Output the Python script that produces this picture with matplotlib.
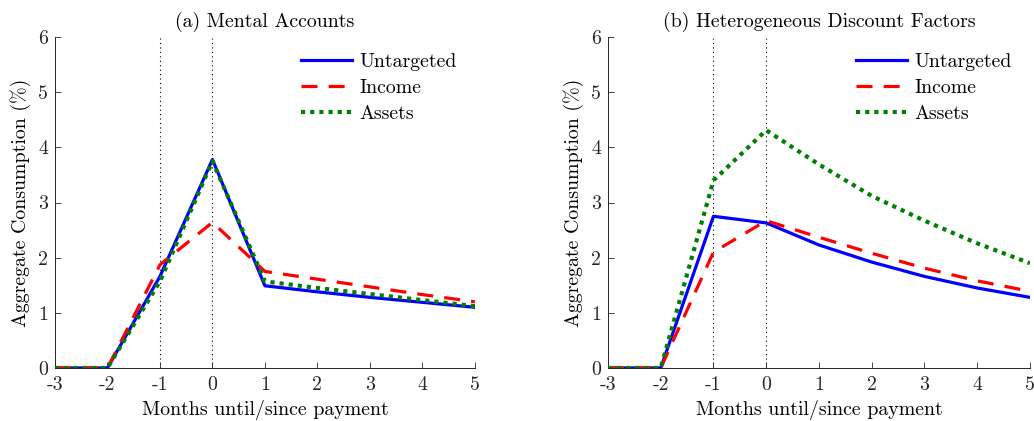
import matplotlib
matplotlib.use("Agg")
import matplotlib.pyplot as plt

plt.rcParams['font.family'] = 'serif'
plt.rcParams['font.serif'] = ['cmr10', 'DejaVu Serif']
plt.rcParams['mathtext.fontset'] = 'cm'
plt.rcParams['axes.unicode_minus'] = False

months = [-3, -2, -1, 0, 1, 2, 3, 4, 5]
xtick_labels = ['-3', '-2', '-1', '0', '1', '2', '3', '4', '5']
ytick_vals = [0, 1, 2, 3, 4, 5, 6]

a_untargeted = [0, 0, 1.66, 3.78, 1.49, 1.38, 1.28, 1.19, 1.10]
a_income = [0, 0, 1.87, 2.64, 1.75, 1.61, 1.47, 1.33, 1.20]
a_assets = [0, 0, 1.57, 3.75, 1.57, 1.45, 1.34, 1.23, 1.12]

b_untargeted = [0, 0, 2.75, 2.63, 2.23, 1.92, 1.66, 1.45, 1.28]
b_income = [0, 0, 2.10, 2.67, 2.37, 2.08, 1.81, 1.58, 1.39]
b_assets = [0, 0, 3.40, 4.31, 3.69, 3.12, 2.67, 2.26, 1.90]

titles = ['(a) Mental Accounts', '(b) Heterogeneous Discount Factors']
series_names = ['Untargeted', 'Income', 'Assets']
panels = [(a_untargeted, a_income, a_assets), (b_untargeted, b_income, b_assets)]

FS = 14.3

fig = plt.figure(figsize=(10.34, 4.21), dpi=100)
positions = [[0.0532, 0.126, 0.406, 0.786], [0.588, 0.126, 0.408, 0.786]]

for pos, title, (u, inc, ast) in zip(positions, titles, panels):
    ax = fig.add_axes(pos)
    ax.axvline(-1, color='black', lw=0.8, ls=(0, (1, 3)), zorder=1)
    ax.axvline(0, color='black', lw=0.8, ls=(0, (1, 3)), zorder=1)
    ax.plot(months, u, color='#0000ff', lw=2.3, label=series_names[0], zorder=3)
    ax.plot(months, inc, color='#ff0000', lw=2.3, ls=(0, (5, 3.5)), label=series_names[1], zorder=4)
    ax.plot(months, ast, color='#008000', lw=3.0, ls=(0, (1, 1.2)), label=series_names[2], zorder=5)
    ax.set_xlim(-3, 5)
    ax.set_ylim(0, 6)
    ax.set_xticks(months)
    ax.set_xticklabels(xtick_labels)
    ax.set_yticks(ytick_vals)
    ax.tick_params(direction='in', length=4, width=0.6, labelsize=FS, colors='#262626')
    ax.tick_params(axis='x', pad=6)
    ax.tick_params(axis='y', pad=5)
    for s in ['top', 'right']:
        ax.spines[s].set_visible(False)
    for s in ['left', 'bottom']:
        ax.spines[s].set_color('#262626')
        ax.spines[s].set_linewidth(0.7)
    ax.set_title(title, fontsize=FS, pad=7)
    ax.set_xlabel('Months until/since payment', fontsize=FS, labelpad=4)
    ax.set_ylabel('Aggregate Consumption (%)', fontsize=FS, labelpad=5)
    ax.legend(loc='upper right', bbox_to_anchor=(1.0, 1.005), frameon=False, fontsize=FS,
              handlelength=2.55, labelspacing=0.4, handletextpad=0.4)

fig.savefig('out.png', dpi=100)
